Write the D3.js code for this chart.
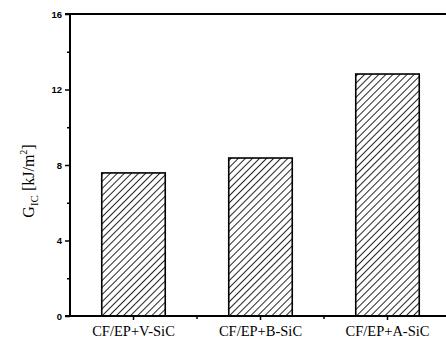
<!DOCTYPE html>
<html>
<head>
<meta charset="utf-8">
<script src="https://cdn.jsdelivr.net/npm/d3@7"></script>
<style>
  html, body { margin: 0; padding: 0; background: #fff; }
  svg { display: block; }
</style>
</head>
<body>
<svg id="chart" width="446" height="345"></svg>
<script>
// Fracture toughness of CF/EP composites with different SiC fillers
const categories = ["CF/EP+V-SiC", "CF/EP+B-SiC", "CF/EP+A-SiC"];
const gicValues = [7.58, 8.37, 12.82];
const majorTicks = [0, 4, 8, 12, 16];
const minorTicks = [2, 6, 10, 14];

const svg = d3.select("#chart");
const margin = { left: 70, top: 14, right: -5, bottom: 29 };
const W = 446, H = 345;

const x = d3.scaleBand()
  .domain(categories)
  .range([margin.left, W - margin.right])
  .paddingInner(0.5)
  .paddingOuter(0.25);

const y = d3.scaleLinear()
  .domain([0, 16])
  .range([H - margin.bottom, margin.top]);

// Diagonal hatch pattern for the bars
const defs = svg.append("defs");
const gap = 5;
const pat = defs.append("pattern")
  .attr("id", "hatch")
  .attr("patternUnits", "userSpaceOnUse")
  .attr("width", gap)
  .attr("height", gap)
  .attr("patternTransform", "rotate(45)");
pat.append("rect").attr("width", gap).attr("height", gap).attr("fill", "#fff");
pat.append("line")
  .attr("x1", 0).attr("y1", 0).attr("x2", 0).attr("y2", gap)
  .attr("stroke", "#000").attr("stroke-width", 1.7);

// Bars
svg.append("g").selectAll("rect")
  .data(categories)
  .join("rect")
  .attr("x", d => x(d))
  .attr("width", x.bandwidth())
  .attr("y", (d, i) => y(gicValues[i]))
  .attr("height", (d, i) => y(0) - y(gicValues[i]))
  .attr("fill", "url(#hatch)")
  .attr("stroke", "#000")
  .attr("stroke-width", 1.6);

// Left axis with major labels
const yAxis = svg.append("g")
  .attr("transform", `translate(${margin.left},0)`)
  .call(d3.axisLeft(y).tickValues(majorTicks).tickSize(5).tickPadding(3).tickFormat(d3.format("d")));
yAxis.select(".domain").attr("stroke-width", 2).attr("d", `M0,${y(0)}V${y(16)}`);
yAxis.selectAll(".tick line").attr("stroke-width", 1.5);
yAxis.selectAll(".tick text")
  .attr("font-family", "Liberation Sans, Arial, sans-serif")
  .attr("font-weight", "bold")
  .attr("font-size", 9.5)
  .attr("fill", "#000");

// Minor ticks on the left axis
svg.append("g")
  .attr("transform", `translate(${margin.left},0)`)
  .call(d3.axisLeft(y).tickValues(minorTicks).tickSize(3).tickFormat(""))
  .call(g => g.select(".domain").remove())
  .selectAll(".tick line").attr("stroke-width", 1.5);

// Bottom axis
const xAxis = svg.append("g")
  .attr("transform", `translate(0,${y(0)})`)
  .call(d3.axisBottom(x).tickSize(4).tickPadding(6));
xAxis.select(".domain").attr("stroke-width", 2).attr("d", `M${margin.left - 5},0H${W}`);
xAxis.selectAll(".tick line").attr("stroke-width", 1.5);
xAxis.selectAll(".tick text")
  .attr("font-family", "Liberation Serif, Times New Roman, serif")
  .attr("font-size", 14.5)
  .attr("fill", "#000");

// Minor ticks between categories
const step = x.step();
const between = categories.slice(1).map(c => x(c) + x.bandwidth() / 2 - step / 2);
svg.append("g").selectAll("line")
  .data(between)
  .join("line")
  .attr("x1", d => d).attr("x2", d => d)
  .attr("y1", y(0)).attr("y2", y(0) + 3)
  .attr("stroke", "#000").attr("stroke-width", 1.5);

// Top frame line
svg.append("line")
  .attr("x1", margin.left - 5).attr("x2", W)
  .attr("y1", y(16)).attr("y2", y(16))
  .attr("stroke", "#000").attr("stroke-width", 2);

// Y axis title
const title = svg.append("text")
  .attr("transform", `translate(34,${(y(0) + y(16)) / 2 + 16}) rotate(-90)`)
  .attr("text-anchor", "middle")
  .attr("font-family", "Liberation Serif, Times New Roman, serif")
  .attr("font-size", 16)
  .attr("fill", "#000");
title.append("tspan").text("G");
title.append("tspan").attr("font-size", 11).attr("dy", 4).text("IC");
title.append("tspan").attr("dy", -4).text(" [kJ/m");
title.append("tspan").attr("font-size", 10).attr("dy", -7).text("2");
title.append("tspan").attr("dy", 7).text("]");
</script>
</body>
</html>
